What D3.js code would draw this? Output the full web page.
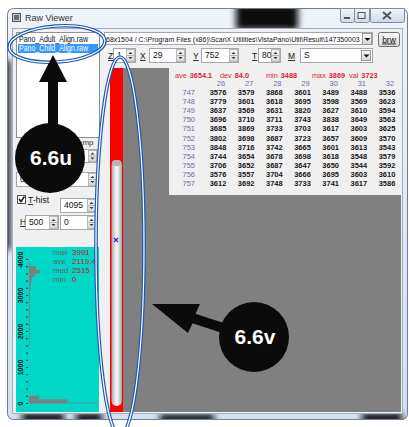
<!DOCTYPE html>
<html>
<head>
<meta charset="utf-8">
<script src="https://cdn.jsdelivr.net/npm/d3@7"></script>
<style>
  body { margin: 0; background: #fff; }
  svg { display: block; }
  text { font-family: "Liberation Sans", Arial, sans-serif; }
</style>
</head>
<body>
<script>
var W = 409, H = 427;

// values
var fileNames = ["Pano_Adult_Align.raw", "Pano_Child_Align.raw"],
    pathText = "68x1504 / C:\\Program Files (x86)\\ScanX Utilities\\VistaPano\\Util\\Result\\147350003",
    fieldLabels = ["Z", "X", "Y", "T", "M"],
    fieldValues = ["1", "29", "752", "80", "S"],
    colLabels = [26, 27, 28, 29, 30, 31, 32],
    rowLabels = [747, 748, 749, 750, 751, 752, 753, 754, 755, 756, 757],
    pixelRows = [
      [3576, 3579, 3868, 3601, 3489, 3488, 3536],
      [3779, 3601, 3618, 3695, 3598, 3569, 3623],
      [3637, 3569, 3631, 3820, 3627, 3610, 3594],
      [3696, 3710, 3711, 3743, 3838, 3649, 3563],
      [3685, 3869, 3733, 3703, 3617, 3603, 3625],
      [3802, 3698, 3687, 3723, 3657, 3609, 3570],
      [3848, 3716, 3742, 3665, 3601, 3613, 3543],
      [3744, 3654, 3678, 3698, 3618, 3548, 3579],
      [3706, 3652, 3687, 3647, 3650, 3544, 3592],
      [3576, 3557, 3704, 3666, 3695, 3603, 3610],
      [3612, 3692, 3748, 3733, 3741, 3617, 3586]
    ],
    statNames = ["ave", "dev", "min", "max", "val"],
    statValues = ["3654.1", "84.0", "3488", "3869", "3723"],
    histNames = ["max", "ave", "med", "min"],
    histValues = ["3991", "2119.4", "2515", "0"],
    histTicks = [0, 1000, 2000, 3000, 4000],
    histBins = [0, 100, 200, 300, 400, 500, 600, 700, 800, 900,
                1000, 1100, 1200, 1300, 1400, 1500, 1600, 1700, 1800, 1900,
                2000, 2100, 2200, 2300, 2400, 2500, 2600, 2700, 2800, 2900,
                3000, 3100, 3200, 3300, 3400, 3500, 3600, 3700, 3800, 3900],
    histCounts = [39, 10, 0, 0, 0, 0, 0, 0, 0, 0,
                  0, 0, 0, 0, 0, 0.6, 0.6, 0.6, 0.6, 0.6,
                  0.8, 0.8, 0.8, 0.8, 0.8, 0.8, 0.8, 0.8, 0.8, 1,
                  1, 1.2, 1.5, 2, 3, 6, 11, 7, 1.2, 0.3];

var svg = d3.select("body").append("svg").attr("width", W).attr("height", H);
var defs = svg.append("defs");

function grad(id, stops, vertical) {
  var g = defs.append("linearGradient").attr("id", id)
      .attr("x1", 0).attr("y1", 0).attr("x2", vertical ? 0 : 1).attr("y2", vertical ? 1 : 0);
  stops.forEach(function(s) { g.append("stop").attr("offset", s[0]).attr("stop-color", s[1]); });
}
grad("titleGrad", [[0, "#eef3fa"], [1, "#d3e0ef"]], true);
grad("btnGrad", [[0, "#f6f6f6"], [0.5, "#e8e8e8"], [1, "#d4d4d4"]], true);
grad("capGrad", [[0, "#f2f5f9"], [1, "#cfd9e6"]], true);
grad("thumbGrad", [[0, "#a8a8a8"], [0.45, "#f4f4f4"], [0.6, "#eeeeee"], [1, "#a4a4a4"]], false);
defs.append("filter").attr("id", "blur").attr("x", "-50%").attr("y", "-50%").attr("width", "200%").attr("height", "200%")
  .append("feGaussianBlur").attr("stdDeviation", 3);

// ---- window frame ----
defs.append("clipPath").attr("id", "frameClip").append("rect")
    .attr("x", 7).attr("y", 8).attr("width", 401).attr("height", 412).attr("rx", 6);
svg.append("rect").attr("x", 7).attr("y", 8).attr("width", 401).attr("height", 412).attr("rx", 6)
    .attr("fill", "url(#titleGrad)");
var glass = svg.append("g").attr("clip-path", "url(#frameClip)").attr("filter", "url(#blur)");
[[236, 4, 62, 26], [22, 413, 42, 10], [76, 413, 26, 10], [160, 414, 54, 9], [362, 413, 40, 10], [2, 60, 8, 190]]
  .forEach(function(p) {
    glass.append("rect").attr("x", p[0]).attr("y", p[1]).attr("width", p[2]).attr("height", p[3]).attr("fill", "#111");
  });
svg.append("rect").attr("x", 7.5).attr("y", 8.5).attr("width", 400).attr("height", 411).attr("rx", 6)
    .attr("fill", "none").attr("stroke", "#6f7f92");

// client area
svg.append("rect").attr("x", 12.5).attr("y", 28.5).attr("width", 390).attr("height", 385)
    .attr("fill", "#f0f0f0").attr("stroke", "#9fb0c4");

// title icon and text
svg.append("rect").attr("x", 12.5).attr("y", 13.5).attr("width", 8).attr("height", 8).attr("fill", "#c9c9c9").attr("stroke", "#555");
svg.append("rect").attr("x", 14).attr("y", 15).attr("width", 5).attr("height", 5).attr("fill", "#6d6d6d");
svg.append("text").attr("x", 25).attr("y", 21).attr("font-size", 9).attr("fill", "#333").text("Raw Viewer");

// caption buttons
var caps = [[340, 14, "min"], [354, 15, "max"], [370, 34, "close"]];
caps.forEach(function(c) {
  svg.append("path")
    .attr("d", "M" + (c[0] + 0.5) + ",8.5 h" + c[1] + " v12 q0,2 -2,2 h" + (4 - c[1]) + " q-2,0 -2,-2 z")
    .attr("fill", "url(#capGrad)").attr("stroke", "#7d8ea3");
  var cx = c[0] + c[1] / 2;
  if (c[2] === "min") svg.append("rect").attr("x", cx - 3).attr("y", 17).attr("width", 6).attr("height", 2).attr("fill", "#555");
  if (c[2] === "max") svg.append("rect").attr("x", cx - 3.5).attr("y", 12.5).attr("width", 7).attr("height", 6).attr("fill", "none").attr("stroke", "#555");
  if (c[2] === "close") svg.append("path").attr("d", "M" + (cx - 4) + ",12 L" + (cx + 4) + ",19 M" + (cx + 4) + ",12 L" + (cx - 4) + ",19")
      .attr("stroke", "#555").attr("stroke-width", 2);
});

// ---- small widgets ----
function editBox(x, y, w, h, txt, spin) {
  svg.append("rect").attr("x", x + 0.5).attr("y", y + 0.5).attr("width", w).attr("height", h)
      .attr("fill", "#fff").attr("stroke", "#a3a6ad");
  if (txt !== undefined) {
    svg.append("text").attr("x", x + 4).attr("y", y + h / 2 + 3.2).attr("font-size", 8.5).attr("fill", "#111").text(txt);
  }
  if (spin) {
    var sx = x + w - 9, half = h / 2;
    svg.append("rect").attr("x", sx + 0.5).attr("y", y + 1.5).attr("width", 8).attr("height", h - 2)
        .attr("fill", "url(#btnGrad)").attr("stroke", "#b8b8b8");
    svg.append("line").attr("x1", sx + 1).attr("x2", sx + 8).attr("y1", y + half + 0.5).attr("y2", y + half + 0.5).attr("stroke", "#b8b8b8");
    svg.append("path").attr("d", "M" + (sx + 2.5) + "," + (y + half - 1) + " l2,-2 l2,2 z").attr("fill", "#333");
    svg.append("path").attr("d", "M" + (sx + 2.5) + "," + (y + half + 2) + " l2,2 l2,-2 z").attr("fill", "#333");
  }
}
function dropButton(x, y, h) {
  svg.append("rect").attr("x", x + 0.5).attr("y", y + 0.5).attr("width", 9).attr("height", h)
      .attr("fill", "url(#btnGrad)").attr("stroke", "#9a9a9a");
  svg.append("path").attr("d", "M" + (x + 2.5) + "," + (y + h / 2 - 0.5) + " l3,3 l3,-3 z").attr("fill", "#111");
}
function uLabel(x, y, t) {
  svg.append("text").attr("x", x).attr("y", y).attr("font-size", 8.5).attr("fill", "#111")
      .attr("text-decoration", "underline").text(t);
}

// file list
svg.append("rect").attr("x", 16.5).attr("y", 32.5).attr("width", 83).attr("height", 105)
    .attr("fill", "#fff").attr("stroke", "#8c9099");
svg.append("rect").attr("x", 18).attr("y", 44).attr("width", 80).attr("height", 9).attr("fill", "#3399ff");
svg.selectAll(".file").data(fileNames).enter().append("text")
    .attr("x", 19).attr("y", function(d, i) { return 41.5 + i * 9; })
    .attr("font-size", 8.2).attr("textLength", 69).attr("lengthAdjust", "spacingAndGlyphs")
    .attr("fill", function(d, i) { return i === 1 ? "#fff" : "#111"; })
    .text(function(d) { return d; });

// path combo + browse
svg.append("rect").attr("x", 104.5).attr("y", 32.5).attr("width", 268).attr("height", 12)
    .attr("fill", "#fff").attr("stroke", "#a3a6ad");
var pathT = svg.append("text").attr("x", 0).attr("y", 0)
    .attr("font-size", 8).attr("fill", "#111").text(pathText);
var natural = pathT.node().getComputedTextLength();
pathT.attr("transform", "translate(106,41.5) scale(" + Math.min(1, 254 / natural) + ",1)");
dropButton(362, 33, 11);
svg.append("rect").attr("x", 378.5).attr("y", 32.5).attr("width", 21).attr("height", 14).attr("rx", 2)
    .attr("fill", "url(#btnGrad)").attr("stroke", "#707070");
svg.append("text").attr("x", 389).attr("y", 42.5).attr("text-anchor", "middle").attr("font-size", 8.5)
    .attr("text-decoration", "underline").attr("fill", "#111").text("brw");

// Z / X / Y / T / M row
var fieldLayout = [[108, 113, 22], [140, 149, 36], [193, 201, 37], [252, 258, 22], [288, 300, 72]];
fieldLayout.forEach(function(f, i) {
  uLabel(f[0], 59, fieldLabels[i]);
  editBox(f[1], 48, f[2], 14, fieldValues[i], i < 4);
  if (i === 4) dropButton(f[1] + f[2] - 11, 50, 10);
});

// hidden group under list
svg.append("text").attr("x", 74).attr("y", 145).attr("font-size", 8).attr("fill", "#333").text("Temp");
editBox(70, 149, 27, 13, "", true);
editBox(16, 172, 81, 14, "0", true);

// T-hist / H controls
svg.append("rect").attr("x", 17.5).attr("y", 195.5).attr("width", 8).attr("height", 8).attr("fill", "#fff").attr("stroke", "#555");
svg.append("path").attr("d", "M19,199 l2,2.5 l3.5,-5").attr("fill", "none").attr("stroke", "#111").attr("stroke-width", 1.4);
uLabel(28, 203, "T");
svg.append("text").attr("x", 33).attr("y", 203).attr("font-size", 8.5).attr("fill", "#111").text("-hist");
editBox(60, 198, 36, 14, "4095", true);
uLabel(20, 225, "H");
editBox(25, 215, 33, 14, "500", true);
editBox(60, 215, 36, 14, "0", true);

// ---- histogram panel ----
svg.append("rect").attr("x", 16).attr("y", 247).attr("width", 83).attr("height", 165).attr("fill", "#00d7c6");
var hy = d3.scaleLinear().domain([0, 4000]).range([403, 259]);
var hx = d3.scaleLinear().domain([0, 70]).range([29, 98]);
svg.append("g").selectAll("rect").data(histBins).enter().append("rect")
    .attr("x", hx(0))
    .attr("y", function(d) { return hy(d + 100); })
    .attr("width", function(d, i) { return hx(histCounts[i]) - hx(0); })
    .attr("height", function(d) { return hy(d) - hy(d + 100); })
    .attr("fill", "#7f7f7f");
svg.append("line").attr("x1", hx(0)).attr("x2", hx(70)).attr("y1", hy(0)).attr("y2", hy(0))
    .attr("stroke", "#7f7f7f").attr("stroke-width", 0.8);

var minorTicks = d3.range(0, 4001, 200);
var hAxis = svg.append("g").attr("transform", "translate(28,0)")
    .call(d3.axisLeft(hy).tickValues(minorTicks).tickSize(2)
      .tickFormat(function(d) { return histTicks.indexOf(d) >= 0 ? d : ""; }));
hAxis.select(".domain").remove();
hAxis.selectAll("line").attr("stroke", "#333");
hAxis.selectAll("text").attr("transform", "rotate(-90)").attr("x", 0).attr("y", -5).attr("dy", 0)
    .attr("text-anchor", "middle").attr("font-size", 7).attr("font-weight", "bold").attr("fill", "#111")
    .attr("font-family", "\"Liberation Sans\", Arial, sans-serif");

var hs = svg.append("g").selectAll("g").data(histNames).enter().append("g")
    .attr("transform", function(d, i) { return "translate(0," + (255 + i * 9) + ")"; });
hs.append("text").attr("x", 53).attr("font-size", 8).attr("fill", "#666").text(function(d) { return d; });
hs.append("text").attr("x", 72).attr("font-size", 8).attr("fill", "#c0182e")
    .text(function(d, i) { return histValues[i]; });

// ---- image area ----
svg.append("rect").attr("x", 123).attr("y", 68).attr("width", 278).attr("height", 344).attr("fill", "#808080");
svg.append("rect").attr("x", 110).attr("y", 68).attr("width", 13).attr("height", 344).attr("fill", "#ff0000");
svg.append("rect").attr("x", 111.5).attr("y", 160).attr("width", 10.5).attr("height", 246).attr("rx", 5)
    .attr("fill", "url(#thumbGrad)");
svg.append("rect").attr("x", 112).attr("y", 160).attr("width", 9.5).attr("height", 6).attr("rx", 4).attr("fill", "#b4b4b4");
svg.append("path").attr("d", "M114,238 l4,4 M118,238 l-4,4").attr("stroke", "#2a2ae6").attr("stroke-width", 1.2);

// pixel table
svg.append("rect").attr("x", 169).attr("y", 68).attr("width", 232).attr("height", 127).attr("fill", "#f0f0f0");
var statX = [175, 220, 266, 312, 349];
var st = svg.append("g").selectAll("text").data(statNames).enter().append("text")
    .attr("x", function(d, i) { return statX[i]; }).attr("y", 78).attr("font-size", 7.3).attr("fill", "#e0183a");
st.append("tspan").text(function(d) { return d; });
st.append("tspan").attr("dx", 3).attr("font-weight", "bold").text(function(d, i) { return statValues[i]; });

var colX = d3.scalePoint().domain(colLabels).range([218, 387]);
var rowY = d3.scalePoint().domain(rowLabels).range([92, 183]);
svg.append("g").selectAll("text").data(colLabels).enter().append("text")
    .attr("x", function(d) { return colX(d) + 3; }).attr("y", 86)
    .attr("text-anchor", "middle").attr("font-size", 7.5).attr("fill", "#6e6eaa").text(function(d) { return d; });
svg.append("g").selectAll("text").data(rowLabels).enter().append("text")
    .attr("x", 195).attr("y", function(d) { return rowY(d) + 3; })
    .attr("text-anchor", "end").attr("font-size", 7.5).attr("fill", "#6e6eaa").text(function(d) { return d; });
var rowsG = svg.append("g").selectAll("g").data(pixelRows).enter().append("g")
    .attr("transform", function(d, i) { return "translate(0," + (rowY(rowLabels[i]) + 3) + ")"; });
rowsG.selectAll("text").data(function(d) { return d; }).enter().append("text")
    .attr("x", function(d, j) { return colX(colLabels[j]); })
    .attr("text-anchor", "middle").attr("font-size", 7.5).attr("font-weight", "bold").attr("fill", "#161616")
    .text(function(d) { return d; });

// ---- annotations ----
function ring(cx, cy, rx, ry, rot) {
  [[3.6, "#1d59b5"], [1.2, "#ffffff"]].forEach(function(s) {
    svg.append("ellipse").attr("cx", cx).attr("cy", cy).attr("rx", rx).attr("ry", ry)
        .attr("transform", "rotate(" + rot + "," + cx + "," + cy + ")")
        .attr("fill", "none").attr("stroke", s[1]).attr("stroke-width", s[0]);
  });
}
ring(57, 44, 48, 18, -4);
ring(120, 246, 24, 189, 0);

svg.append("polygon").attr("points", "53,55 39,82 48,82 48,130 58,130 58,82 67,82").attr("fill", "#0b0b0b");
svg.append("polygon").attr("points", "152,304 200,304 195.5,313.8 233.5,326.2 230.5,335.7 192.5,323.2 188,333").attr("fill", "#0b0b0b");

var badges = [[50, 158, "6.6u"], [254, 337, "6.6v"]];
badges.forEach(function(b) {
  svg.append("circle").attr("cx", b[0]).attr("cy", b[1]).attr("r", 35).attr("fill", "#0b0b0b");
  svg.append("text").attr("x", b[0] + 1).attr("y", b[1] + 7).attr("text-anchor", "middle")
      .attr("font-family", "\"Open Sans\", sans-serif").attr("font-weight", 700).attr("font-size", 21)
      .attr("fill", "#fff").text(b[2]);
});
</script>
</body>
</html>
